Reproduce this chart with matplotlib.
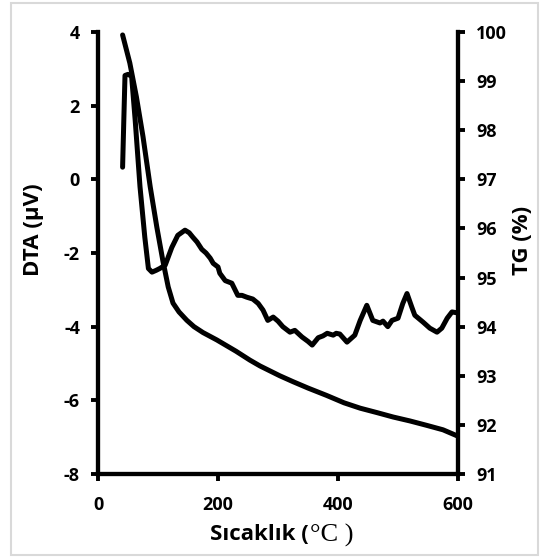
import matplotlib
matplotlib.use('Agg')
import matplotlib.pyplot as plt
from matplotlib.patches import Rectangle

plt.rcParams['axes.unicode_minus'] = False

# DTA eğrisi (sol eksen, µV)
dta_t = [41, 43, 45, 50, 56, 62, 70, 78, 84, 90, 97, 103, 112, 123, 133, 145,
         152, 158, 165, 173, 180, 187, 192, 200, 203, 212, 223, 233, 240, 248,
         258, 267, 275, 283, 292, 300, 308, 320, 328, 340, 350, 357, 367, 375,
         382, 392, 397, 403, 415, 428, 437, 448, 458, 470, 475, 483, 490, 500,
         508, 515, 523, 528, 542, 553, 565, 573, 582, 590, 597]
dta_v = [0.33, 1.6, 2.82, 2.85, 2.8, 1.6, -0.2, -1.57, -2.42, -2.52, -2.47, -2.42,
         -2.33, -1.85, -1.52, -1.38, -1.45, -1.57, -1.7, -1.9, -2.0, -2.14, -2.28,
         -2.38, -2.55, -2.75, -2.82, -3.15, -3.15, -3.2, -3.25, -3.37, -3.55, -3.83,
         -3.74, -3.85, -4.0, -4.15, -4.1, -4.28, -4.4, -4.5, -4.3, -4.25, -4.18,
         -4.23, -4.18, -4.2, -4.42, -4.23, -3.83, -3.42, -3.83, -3.9, -3.85, -4.0,
         -3.83, -3.77, -3.37, -3.1, -3.47, -3.69, -3.88, -4.04, -4.15, -4.04, -3.77,
         -3.6, -3.62]

# TG eğrisi (sağ eksen, %)
tg_t = [41, 53, 64, 75, 87, 98, 108, 117, 125, 135, 148, 160, 175, 198, 230,
        253, 270, 303, 325, 350, 381, 410, 437, 465, 492, 520, 548, 575, 598]
tg_v = [99.94, 99.37, 98.68, 97.87, 96.85, 96.03, 95.35, 94.81, 94.48, 94.3,
        94.13, 94.0, 93.88, 93.73, 93.5, 93.32, 93.2, 93.0, 92.88, 92.75, 92.6,
        92.45, 92.34, 92.25, 92.16, 92.08, 91.99, 91.9, 91.78]

x_ticks = [0, 200, 400, 600]
dta_ticks = [-8, -6, -4, -2, 0, 2, 4]
tg_ticks = [91, 92, 93, 94, 95, 96, 97, 98, 99, 100]

W, H = 542, 557
fig = plt.figure(figsize=(W / 100, H / 100), dpi=100)

# dış çerçeve
fig.patches.append(Rectangle((11 / W, 2 / H), 527 / W, 552 / H, transform=fig.transFigure,
                             fill=False, edgecolor='#d9d9d9', linewidth=1.5))

ax = fig.add_axes([98 / W, 1 - 474 / H, 360 / W, 442 / H])
ax2 = ax.twinx()

lw = 3.6
ax.plot(dta_t, dta_v, color='black', linewidth=lw, solid_joinstyle='round', solid_capstyle='round')
ax2.plot(tg_t, tg_v, color='black', linewidth=lw, solid_joinstyle='round', solid_capstyle='round')

ax.set_xlim(0, 600)
ax.set_ylim(-8, 4)
ax2.set_ylim(91, 100)
ax.set_xticks(x_ticks)
ax.set_yticks(dta_ticks)
ax2.set_yticks(tg_ticks)

fam = 'Open Sans'
for a in (ax, ax2):
    a.spines['top'].set_visible(False)
    for s in a.spines.values():
        s.set_linewidth(3)
    a.tick_params(width=2.8, length=5, direction='out')
ax.tick_params(axis='x', pad=11)
ax.tick_params(axis='y', pad=8)
ax2.tick_params(axis='y', pad=8)
for lab in ax.get_xticklabels() + ax.get_yticklabels() + ax2.get_yticklabels():
    lab.set_family(fam)
    lab.set_weight('bold')
    lab.set_size(13)

fig.text(34 / W, 1 - 230 / H, 'DTA (µV)', rotation=90, ha='center', va='center',
         family=fam, weight='bold', size=16)
fig.text(522 / W, 1 - 240 / H, 'TG (%)', rotation=90, ha='center', va='center',
         family=fam, weight='bold', size=16)

# x ekseni etiketi: iki farklı yazı tipi
renderer = fig.canvas.get_renderer()
t1 = fig.text(0, 1 - 535 / H, 'Sıcaklık (', ha='left', va='center',
              family=fam, weight='bold', size=16)
t2 = fig.text(0, 1 - 535 / H, '°C )', ha='left', va='center',
              family='Liberation Serif', size=19)
w1 = t1.get_window_extent(renderer).width
w2 = t2.get_window_extent(renderer).width
x0 = 281 - (w1 + w2) / 2
t1.set_x(x0 / W)
t2.set_x((x0 + w1 + 1) / W)

fig.savefig('out.png', dpi=100)
